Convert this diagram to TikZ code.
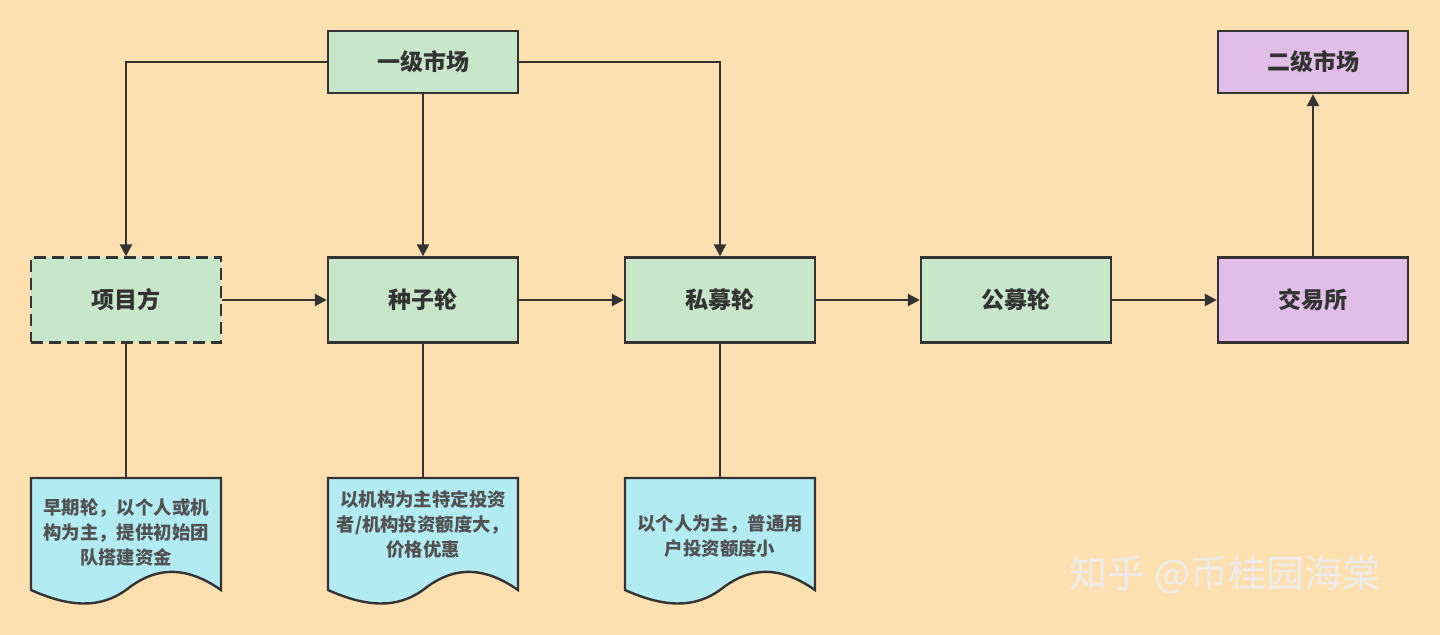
\documentclass[tikz,border=0pt]{standalone}
\usepackage{fontspec}
\newfontfamily\cjk{Noto Sans CJK SC}
\usetikzlibrary{arrows.meta}
\definecolor{bg}{HTML}{FDDFB0}
\definecolor{gr}{HTML}{C8E6C9}
\definecolor{pu}{HTML}{E1BEE7}
\definecolor{cy}{HTML}{B2EBF2}
\definecolor{ln}{HTML}{333333}
\begin{document}
\begin{tikzpicture}[x=0.5pt,y=-0.5pt,
 box/.style={draw=ln,line width=1.2pt,minimum width=95pt,minimum height=42.5pt,inner sep=0pt,font=\cjk\bfseries\fontsize{11.5}{13}\selectfont,text=ln},
 g/.style={box,fill=gr}, p/.style={box,fill=pu},
 top/.style={minimum height=31pt},
 con/.style={draw=ln,line width=1.2pt},
 arr/.style={con,-{Triangle[length=6pt,width=6pt]}},
 doc/.style={draw=ln,line width=1.2pt,fill=cy},
 dt/.style={font=\cjk\bfseries\fontsize{9.2}{12.5}\selectfont,text=ln!85,align=center}]
\fill[bg] (0,0) rectangle (1440,635);
\useasboundingbox (0,0) rectangle (1440,635);
\node[g,top] (yj) at (423,62) {一级市场};
\node[p,top] (ej) at (1313,62) {二级市场};
\node[g,dashed,dash pattern=on 6pt off 3pt] (xm) at (126,300) {项目方};
\node[g] (zz) at (423,300) {种子轮};
\node[g] (sm) at (720,300) {私募轮};
\node[g] (gm) at (1016,300) {公募轮};
\node[p] (jy) at (1313,300) {交易所};
\foreach \x/\n in {31/d1,328/d2,625/d3}{
 \draw[doc] (\x,478) -- (\x+190,478) -- (\x+190,590) .. controls (\x+150,562) and (\x+120,570) .. (\x+95,590) .. controls (\x+70,608) and (\x+40,608) .. (\x,590) -- cycle;
 \coordinate (\n) at (\x+95,478);}
\node[dt] at (126,532) {早期轮，以个人或机\\构为主，提供初始团\\队搭建资金};
\node[dt] at (423,524) {以机构为主特定投资\\者/机构投资额度大，\\价格优惠};
\node[dt] at (720,536) {以个人为主，普通用\\户投资额度小};
\draw[arr] (yj.west) -| (xm.north);
\draw[arr] (yj.south) -- (zz.north);
\draw[arr] (yj.east) -| (sm.north);
\draw[arr] (xm) -- (zz);
\draw[arr] (zz) -- (sm);
\draw[arr] (sm) -- (gm);
\draw[arr] (gm) -- (jy);
\draw[arr] (jy) -- (ej);
\draw[con] (xm.south) -- (d1);
\draw[con] (zz.south) -- (d2);
\draw[con] (sm.south) -- (d3);
\node[font=\cjk\fontsize{19}{22}\selectfont,text=white!85!gray] at (1225,575) {知乎 @币桂园海棠};
\end{tikzpicture}
\end{document}
